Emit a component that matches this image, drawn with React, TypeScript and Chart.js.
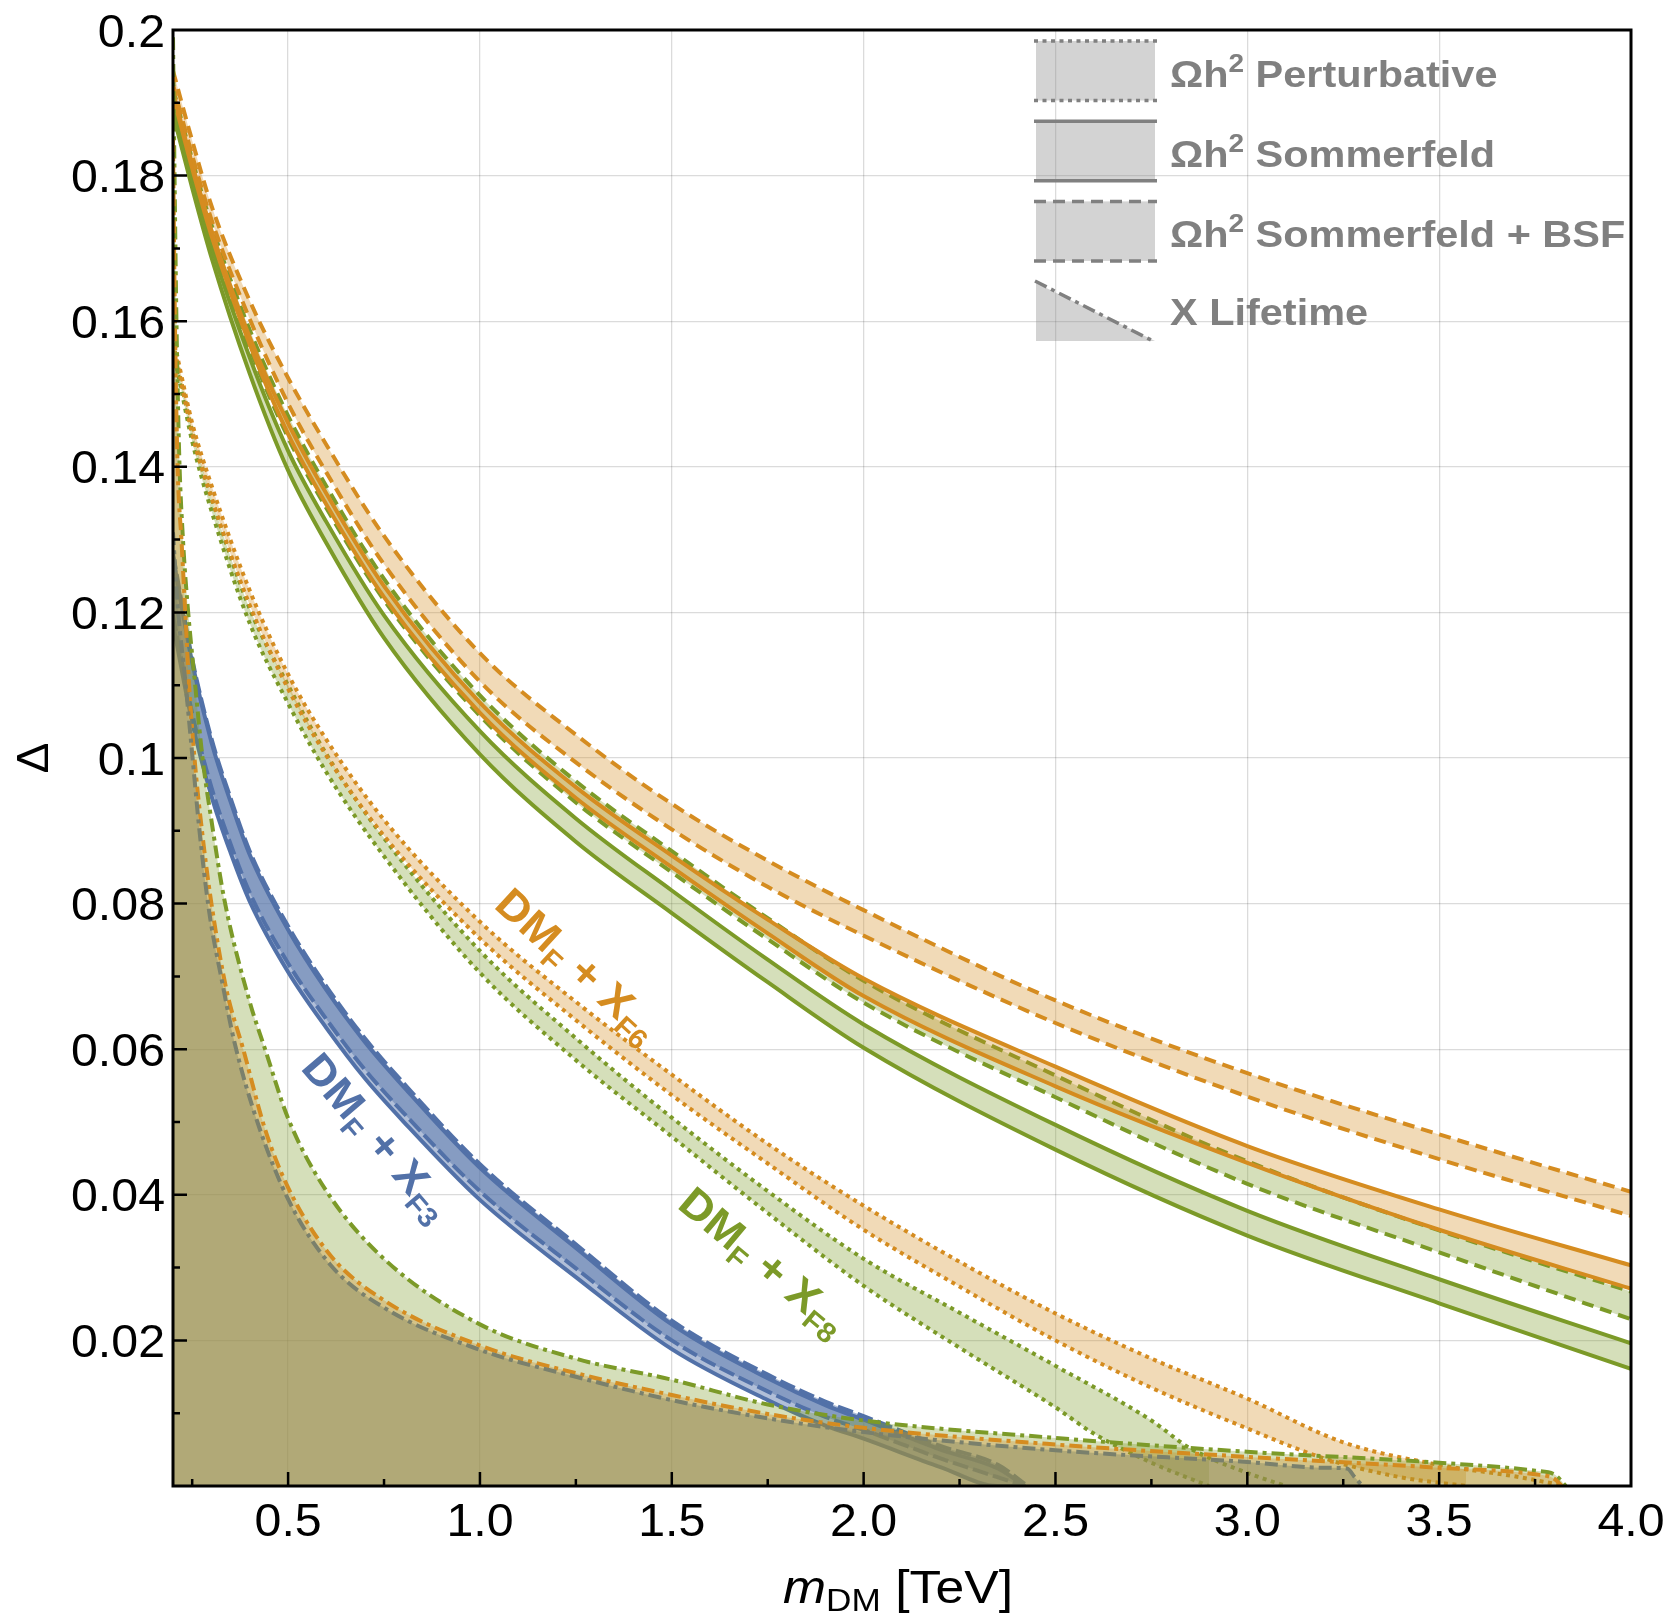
import { useEffect, useRef } from "react";
import { Chart, registerables } from "chart.js";

Chart.register(...registerables);

const WIDTH = 1667;
const HEIGHT = 1619;
const FONT = '"Liberation Sans", Arial, Helvetica, sans-serif';

// ---- axes -------------------------------------------------------------
const X_MIN = 0.2;
const X_MAX = 4.0;
const Y_MIN = 0;
const Y_MAX = 0.2;
const xGrid = [0.5, 1.0, 1.5, 2.0, 2.5, 3.0, 3.5];
const yGrid = [0.02, 0.04, 0.06, 0.08, 0.1, 0.12, 0.14, 0.16, 0.18];
const xMajor = [0.5, 1.0, 1.5, 2.0, 2.5, 3.0, 3.5];
const xMinor = [0.25, 0.75, 1.25, 1.75, 2.25, 2.75, 3.25, 3.75];
const yMajor = [0.02, 0.04, 0.06, 0.08, 0.1, 0.12, 0.14, 0.16, 0.18];
const yMinor = [0.01, 0.03, 0.05, 0.07, 0.09, 0.11, 0.13, 0.15, 0.17, 0.19];
const xTickValues = [0.5, 1.0, 1.5, 2.0, 2.5, 3.0, 3.5, 4.0];
const xTickLabels = ["0.5", "1.0", "1.5", "2.0", "2.5", "3.0", "3.5", "4.0"];
const yTickValues = [0.02, 0.04, 0.06, 0.08, 0.1, 0.12, 0.14, 0.16, 0.18, 0.2];
const yTickLabels = ["0.02", "0.04", "0.06", "0.08", "0.1", "0.12", "0.14", "0.16", "0.18", "0.2"];

// ---- relic-density bands, Sommerfeld and Sommerfeld + BSF ---------------
const massUpper = [0.2, 0.25, 0.3, 0.4, 0.5, 0.6, 0.75, 1.0, 1.25, 1.5, 1.75, 2.0, 2.5, 3.0, 3.5, 4.0];
const f8SommerfeldLow = [0.1885, 0.1783, 0.1688, 0.1528, 0.1395, 0.1295, 0.1165, 0.1005, 0.0885, 0.0787, 0.0692, 0.0602, 0.0462, 0.0344, 0.0251, 0.0161];
const f8SommerfeldHigh = [0.1895, 0.1795, 0.1703, 0.155, 0.1422, 0.1324, 0.1196, 0.1037, 0.0917, 0.0818, 0.0723, 0.0634, 0.0496, 0.0378, 0.0284, 0.0196];
const f8BsfLow = [0.1905, 0.1805, 0.1713, 0.1563, 0.144, 0.1343, 0.1217, 0.1058, 0.0939, 0.0843, 0.0751, 0.0664, 0.0534, 0.0415, 0.0321, 0.0229];
const f8BsfHigh = [0.192, 0.1822, 0.1733, 0.1588, 0.147, 0.1373, 0.1246, 0.1086, 0.0968, 0.0872, 0.078, 0.0694, 0.0564, 0.0446, 0.0351, 0.0267];
const f6SommerfeldLow = [0.191, 0.181, 0.1718, 0.1568, 0.1445, 0.1348, 0.1221, 0.1062, 0.0945, 0.085, 0.0759, 0.0673, 0.0549, 0.0444, 0.0352, 0.0271];
const f6SommerfeldHigh = [0.1915, 0.1816, 0.1725, 0.1578, 0.146, 0.1363, 0.1236, 0.1076, 0.096, 0.0866, 0.0778, 0.0697, 0.0576, 0.0467, 0.038, 0.0303];
const f6BsfLow = [0.1925, 0.1828, 0.174, 0.1603, 0.1487, 0.1392, 0.1266, 0.1105, 0.0994, 0.0902, 0.0823, 0.0756, 0.0636, 0.0535, 0.0449, 0.0371];
const f6BsfHigh = [0.1944, 0.1848, 0.1759, 0.1628, 0.1522, 0.143, 0.1305, 0.1144, 0.1032, 0.0937, 0.0859, 0.0791, 0.0667, 0.0567, 0.0483, 0.0404];

// ---- relic-density bands, perturbative (mass, Δ) -------------------------
const f6PertHigh = [[0.2, 0.158], [0.22, 0.153], [0.25, 0.146], [0.3, 0.1375], [0.4, 0.123], [0.5, 0.1115], [0.6, 0.1025], [0.75, 0.0915], [1.0, 0.0775], [1.25, 0.0665], [1.5, 0.0565], [1.75, 0.047], [2.0, 0.0385], [2.25, 0.0308], [2.5, 0.0237], [2.75, 0.0175], [3.0, 0.012], [3.25, 0.006], [3.5, 0.0029], [3.7, 0.0013], [3.83, 0]];
const f6PertLow = [[0.2, 0.157], [0.22, 0.152], [0.25, 0.1445], [0.3, 0.1358], [0.4, 0.121], [0.5, 0.1095], [0.6, 0.1003], [0.75, 0.0893], [1.0, 0.0752], [1.25, 0.064], [1.5, 0.0537], [1.75, 0.0443], [2.0, 0.0352], [2.25, 0.0274], [2.5, 0.02], [2.75, 0.0135], [3.0, 0.0079], [3.2, 0.0038], [3.4, 0.0012], [3.57, 0]];
const f8PertHigh = [[0.2, 0.157], [0.22, 0.152], [0.25, 0.145], [0.3, 0.1358], [0.4, 0.1205], [0.5, 0.11], [0.6, 0.1005], [0.75, 0.089], [1.0, 0.0735], [1.25, 0.0615], [1.5, 0.0506], [1.75, 0.0405], [2.0, 0.0312], [2.25, 0.0238], [2.5, 0.0165], [2.75, 0.009], [2.85, 0.0052], [3.0, 0.0018], [3.1, 0]];
const f8PertLow = [[0.2, 0.156], [0.22, 0.151], [0.25, 0.1435], [0.3, 0.134], [0.4, 0.1185], [0.5, 0.1075], [0.6, 0.098], [0.75, 0.0865], [1.0, 0.0705], [1.25, 0.0585], [1.5, 0.048], [1.75, 0.0375], [2.0, 0.0275], [2.25, 0.019], [2.5, 0.0108], [2.6, 0.0072], [2.75, 0.0032], [2.9, 0]];

// ---- X_F3 band ------------------------------------------------------------
const massF3 = [0.2, 0.25, 0.3, 0.35, 0.4, 0.5, 0.6, 0.7, 0.8, 1.0, 1.25, 1.5, 1.75, 1.9, 2.0, 2.2, 2.35, 2.42];
const f3SommerfeldHigh = [0.1276, 0.1131, 0.1022, 0.094, 0.0867, 0.0764, 0.0681, 0.061, 0.0549, 0.0437, 0.0327, 0.0222, 0.0148, 0.0111, 0.0091, 0.005, 0.0024, 0.0];
const f3SommerfeldLow = [0.1184, 0.1049, 0.0948, 0.087, 0.0803, 0.0706, 0.0629, 0.056, 0.0501, 0.0393, 0.0287, 0.0188, 0.0118, 0.0083, 0.0065, 0.0026, 0.0, 0.0];
const f3BsfHigh = [0.1281, 0.1136, 0.1027, 0.0945, 0.0872, 0.0769, 0.0686, 0.0615, 0.0554, 0.0442, 0.0332, 0.0227, 0.0153, 0.0116, 0.0096, 0.0055, 0.0029, 0.0003];
const f3BsfLow = [0.1196, 0.1061, 0.096, 0.0882, 0.0815, 0.0718, 0.0641, 0.0572, 0.0513, 0.0405, 0.0299, 0.02, 0.013, 0.0095, 0.0077, 0.0038, 0.0012, 0.0];

// ---- X lifetime bounds (mass, Δ) -----------------------------------------
const lifetimeF8 = [[0.2, 0.199], [0.204, 0.18], [0.209, 0.16], [0.216, 0.142], [0.226, 0.13], [0.238, 0.121], [0.256, 0.111], [0.277, 0.1], [0.3, 0.0915], [0.334, 0.0805], [0.4, 0.0665], [0.44, 0.06], [0.5, 0.0505], [0.6, 0.0405], [0.75, 0.0312], [1.0, 0.0222], [1.25, 0.0175], [1.5, 0.0146], [1.75, 0.0112], [2.0, 0.009], [2.5, 0.0066], [3.0, 0.0047], [3.5, 0.0032], [3.75, 0.0021], [3.8, 0.0016], [3.83, 0]];
const lifetimeF6 = [[0.2, 0.185], [0.205, 0.16], [0.212, 0.14], [0.222, 0.13], [0.232, 0.12], [0.242, 0.11], [0.256, 0.1], [0.28, 0.088], [0.303, 0.079], [0.34, 0.068], [0.383, 0.06], [0.44, 0.049], [0.5, 0.041], [0.61, 0.0317], [0.75, 0.0255], [1.0, 0.0193], [1.25, 0.0155], [1.5, 0.0125], [1.75, 0.0099], [2.0, 0.008], [2.5, 0.0057], [3.0, 0.004], [3.5, 0.0025], [3.75, 0.0016], [3.8, 0.001], [3.82, 0]];
const lifetimeF3 = [[0.2, 0.131], [0.212, 0.121], [0.232, 0.1106], [0.251, 0.1], [0.269, 0.09], [0.294, 0.079], [0.329, 0.069], [0.36, 0.061], [0.42, 0.05], [0.5, 0.0394], [0.61, 0.0304], [0.75, 0.0245], [1.0, 0.0187], [1.25, 0.015], [1.5, 0.0118], [1.75, 0.0093], [2.0, 0.0074], [2.5, 0.0049], [3.0, 0.0033], [3.2, 0.0025], [3.26, 0.0024], [3.28, 0.0012], [3.3, 0]];

// ---- colours & line styles ----------------------------------------------
const ORANGE = "rgb(213,140,32)";
const ORANGE_FILL = "rgba(213,140,32,0.32)";
const GREEN = "rgb(124,154,40)";
const GREEN_FILL = "rgba(124,154,40,0.32)";
const BLUE = "rgb(82,113,168)";
const BLUE_FILL = "rgba(82,113,168,0.45)";
const LIFE_GREY = "rgb(122,128,108)";
const LIFE_GREY_FILL = "rgba(132,138,99,0.45)";
const LEGEND_GREY = "rgb(128,128,128)";
const LEGEND_FILL = "rgba(128,128,128,0.35)";
const GRID = "rgba(0,0,0,0.14)";
const LINE_W = 4;

type Style = "solid" | "dashed" | "dotted" | "dashdot" | "longdash";
const DASH: Record<Style, number[]> = {
  solid: [],
  dashed: [12, 7],
  dotted: [4, 4.5],
  dashdot: [13, 5, 4, 5],
  longdash: [16, 5],
};

const zip = (xs: number[], ys: number[]) => xs.map((x, i) => ({ x, y: ys[i] }));
const pts = (pairs: number[][]) => pairs.map(([x, y]) => ({ x, y }));

type Pt = { x: number; y: number };

function lineSet(data: Pt[], color: string, style: Style, fill: any = false, fillColor = "rgba(0,0,0,0)") {
  return {
    data,
    borderColor: color,
    borderWidth: LINE_W,
    borderDash: DASH[style],
    borderCapStyle: "butt",
    backgroundColor: fillColor,
    fill,
    pointRadius: 0,
    pointHoverRadius: 0,
    cubicInterpolationMode: "monotone",
  };
}

function buildDatasets() {
  const ds: any[] = [];
  const band = (low: Pt[], high: Pt[], color: string, fillColor: string, style: Style) => {
    ds.push(lineSet(low, color, style));
    ds.push(lineSet(high, color, style, "-1", fillColor));
  };
  band(zip(massUpper, f8SommerfeldLow), zip(massUpper, f8SommerfeldHigh), GREEN, GREEN_FILL, "solid");
  band(zip(massUpper, f8BsfLow), zip(massUpper, f8BsfHigh), GREEN, GREEN_FILL, "dashed");
  band(zip(massUpper, f6SommerfeldLow), zip(massUpper, f6SommerfeldHigh), ORANGE, ORANGE_FILL, "solid");
  band(zip(massUpper, f6BsfLow), zip(massUpper, f6BsfHigh), ORANGE, ORANGE_FILL, "dashed");
  band(pts(f8PertLow), pts(f8PertHigh), GREEN, GREEN_FILL, "dotted");
  band(pts(f6PertLow), pts(f6PertHigh), ORANGE, ORANGE_FILL, "dotted");
  band(zip(massF3, f3SommerfeldLow), zip(massF3, f3SommerfeldHigh), BLUE, BLUE_FILL, "solid");
  band(zip(massF3, f3BsfLow), zip(massF3, f3BsfHigh), BLUE, BLUE_FILL, "longdash");
  ds.push(lineSet(pts(lifetimeF8), GREEN, "dashdot", "origin", GREEN_FILL));
  ds.push(lineSet(pts(lifetimeF6), ORANGE, "dashdot", "origin", ORANGE_FILL));
  ds.push(lineSet(pts(lifetimeF3), LIFE_GREY, "dashdot", "origin", LIFE_GREY_FILL));
  // later entries are painted on top
  ds.forEach((d, i) => (d.order = ds.length - i));
  return ds;
}

// ---- text helpers ---------------------------------------------------------
type Part = { t: string; size: number; dy?: number; italic?: boolean };
type RichOpts = { align?: "left" | "center" | "right"; angle?: number; sx?: number; color: string; weight?: string; shift?: number };

function rich(ctx: CanvasRenderingContext2D, parts: Part[], x: number, y: number, o: RichOpts) {
  const weight = o.weight ?? "normal";
  const sx = o.sx ?? 1;
  const fontOf = (p: Part) => `${p.italic ? "italic " : ""}${weight} ${p.size}px ${FONT}`;
  ctx.save();
  ctx.fillStyle = o.color;
  ctx.textBaseline = "alphabetic";
  ctx.textAlign = "left";
  const widths = parts.map((p) => {
    ctx.font = fontOf(p);
    return ctx.measureText(p.t).width * sx;
  });
  const total = widths.reduce((s, w) => s + w, 0);
  ctx.translate(x, y);
  ctx.rotate(o.angle ?? 0);
  ctx.translate(0, o.shift ?? 0);
  let cx = o.align === "center" ? -total / 2 : o.align === "right" ? -total : 0;
  parts.forEach((p, i) => {
    ctx.font = fontOf(p);
    ctx.save();
    ctx.translate(cx, p.dy ?? 0);
    ctx.scale(sx, 1);
    ctx.fillText(p.t, 0, 0);
    ctx.restore();
    cx += widths[i];
  });
  ctx.restore();
}

// in-plot band names: [mass, Δ, angle in degrees, colour, subscript]
const bandNames: [number, number, number, string, string][] = [
  [1.256, 0.0716, 42.5, ORANGE, "F6"],
  [0.733, 0.048, 49.5, BLUE, "F3"],
  [1.74, 0.0309, 40, GREEN, "F8"],
];

const legendRows: { label: string; style: Style }[] = [
  { label: " Perturbative", style: "dotted" },
  { label: " Sommerfeld", style: "solid" },
  { label: " Sommerfeld + BSF", style: "dashed" },
];

const decor = {
  id: "decor",
  afterDraw(chart: any) {
    const { ctx, chartArea: a } = chart;
    const xs = chart.scales.x;
    const ys = chart.scales.y;

    // band names
    for (const [m, d, deg, color, sub] of bandNames) {
      rich(
        ctx,
        [
          { t: "DM", size: 43 },
          { t: "F", size: 28, dy: 9 },
          { t: " + X", size: 43 },
          { t: sub, size: 28, dy: 9 },
        ],
        xs.getPixelForValue(m),
        ys.getPixelForValue(d),
        { align: "center", angle: (deg * Math.PI) / 180, sx: 1.05, color, weight: "bold", shift: 15 }
      );
    }

    // legend
    const lx0 = a.right - 596;
    const lx1 = a.right - 476;
    const tx = a.right - 461;
    ctx.save();
    legendRows.forEach((row, i) => {
      const top = a.top + 11 + i * 80.2;
      const bot = top + 59.5;
      ctx.fillStyle = LEGEND_FILL;
      ctx.fillRect(lx0 + 1, top, lx1 - lx0 - 1, bot - top);
      ctx.strokeStyle = LEGEND_GREY;
      ctx.lineWidth = 3.5;
      ctx.lineCap = "butt";
      ctx.setLineDash(DASH[row.style]);
      ctx.beginPath();
      ctx.moveTo(lx0 - 1, top);
      ctx.lineTo(lx1 + 2, top);
      ctx.moveTo(lx0 - 1, bot);
      ctx.lineTo(lx1 + 2, bot);
      ctx.stroke();
      rich(
        ctx,
        [
          { t: "Ωh", size: 37 },
          { t: "2", size: 25, dy: -15 },
          { t: row.label, size: 37 },
        ],
        tx,
        top + 46,
        { sx: 1.12, color: LEGEND_GREY, weight: "bold" }
      );
    });
    const t4 = a.top + 251;
    const b4 = a.top + 311;
    ctx.setLineDash([]);
    ctx.fillStyle = LEGEND_FILL;
    ctx.beginPath();
    ctx.moveTo(lx0 + 1, t4 + 2);
    ctx.lineTo(lx0 + 1, b4);
    ctx.lineTo(lx1, b4);
    ctx.closePath();
    ctx.fill();
    ctx.strokeStyle = LEGEND_GREY;
    ctx.lineWidth = 3.5;
    ctx.setLineDash(DASH.dashdot);
    ctx.beginPath();
    ctx.moveTo(lx0, t4);
    ctx.lineTo(lx1 - 2, b4);
    ctx.stroke();
    ctx.setLineDash([]);
    ctx.restore();
    rich(ctx, [{ t: "X Lifetime", size: 37 }], tx, b4 - 16, { sx: 1.12, color: LEGEND_GREY, weight: "bold" });

    // frame and inward ticks
    ctx.save();
    ctx.strokeStyle = "#000";
    ctx.lineWidth = 3;
    ctx.strokeRect(a.left, a.top, a.right - a.left, a.bottom - a.top);
    ctx.lineWidth = 2.5;
    ctx.beginPath();
    for (const v of yMajor) {
      const p = ys.getPixelForValue(v);
      ctx.moveTo(a.left, p);
      ctx.lineTo(a.left + 14, p);
    }
    for (const v of yMinor) {
      const p = ys.getPixelForValue(v);
      ctx.moveTo(a.left, p);
      ctx.lineTo(a.left + 7, p);
    }
    for (const v of xMajor) {
      const p = xs.getPixelForValue(v);
      ctx.moveTo(p, a.bottom);
      ctx.lineTo(p, a.bottom - 14);
    }
    for (const v of xMinor) {
      const p = xs.getPixelForValue(v);
      ctx.moveTo(p, a.bottom);
      ctx.lineTo(p, a.bottom - 7);
    }
    ctx.stroke();
    ctx.restore();

    // tick labels
    yTickValues.forEach((v, i) => {
      rich(ctx, [{ t: yTickLabels[i], size: 46 }], a.left - 8, ys.getPixelForValue(v) + 16.5, { align: "right", sx: 1.05, color: "#000" });
    });
    xTickValues.forEach((v, i) => {
      rich(ctx, [{ t: xTickLabels[i], size: 46 }], xs.getPixelForValue(v), a.bottom + 50, { align: "center", sx: 1.05, color: "#000" });
    });

    // axis titles
    rich(
      ctx,
      [
        { t: "m", size: 47, italic: true },
        { t: "DM", size: 32, dy: 8 },
        { t: " [TeV]", size: 47 },
      ],
      (a.left + a.right) / 2 - 4,
      a.bottom + 117,
      { align: "center", sx: 1.1, color: "#000" }
    );
    rich(ctx, [{ t: "Δ", size: 44 }], 48, (a.top + a.bottom) / 2, { align: "center", angle: -Math.PI / 2, sx: 1.05, color: "#000" });
  },
};

export default function App() {
  const ref = useRef<HTMLCanvasElement | null>(null);
  useEffect(() => {
    document.body.style.margin = "0";
    const canvas = ref.current;
    if (!canvas) return;
    const chart = new Chart(canvas, {
      type: "line",
      data: { datasets: buildDatasets() },
      options: {
        animation: false,
        responsive: false,
        devicePixelRatio: 1,
        layout: { padding: { left: 0, top: 30, right: 36, bottom: 0 } },
        plugins: {
          legend: { display: false },
          tooltip: { enabled: false },
          filler: { propagate: false },
        },
        scales: {
          x: {
            type: "linear",
            min: X_MIN,
            max: X_MAX,
            afterBuildTicks: (s: any) => {
              s.ticks = xGrid.map((value) => ({ value }));
            },
            afterFit: (s: any) => {
              s.height = HEIGHT - 1486;
            },
            ticks: { display: false },
            grid: { color: GRID, lineWidth: 1.3, drawTicks: false },
            border: { display: false },
          },
          y: {
            type: "linear",
            min: Y_MIN,
            max: Y_MAX,
            afterBuildTicks: (s: any) => {
              s.ticks = yGrid.map((value) => ({ value }));
            },
            afterFit: (s: any) => {
              s.width = 173;
            },
            ticks: { display: false },
            grid: { color: GRID, lineWidth: 1.3, drawTicks: false },
            border: { display: false },
          },
        },
      } as any,
      plugins: [decor],
    });
    return () => chart.destroy();
  }, []);
  return (
    <div style={{ width: WIDTH, height: HEIGHT }}>
      <canvas ref={ref} width={WIDTH} height={HEIGHT} style={{ display: "block" }} />
    </div>
  );
}
